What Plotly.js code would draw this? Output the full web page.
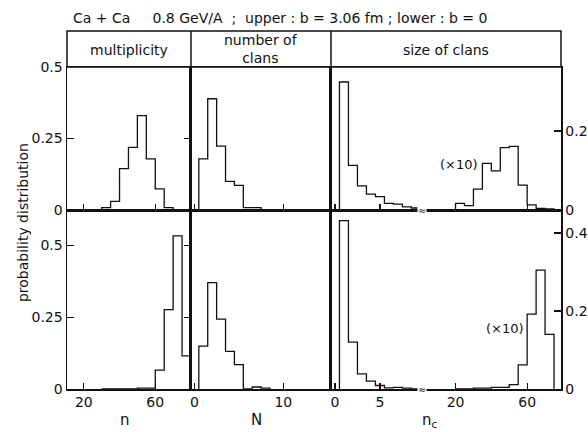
<!DOCTYPE html>
<html><head><meta charset="utf-8">
<script src="https://cdn.plot.ly/plotly-3.0.1.min.js"></script>
<style>html,body{margin:0;padding:0;background:#fff}#chart{width:588px;height:432px}</style>
</head><body><div id="chart"></div>
<script>
// ---- data ----
// Multiplicity n : bins of width 5 (lower edges)
const multBins  = [30, 35, 40, 45, 50, 55, 60, 65, 70, 75];
const multUpper = [0.008, 0.030, 0.145, 0.219, 0.330, 0.179, 0.074, 0.008, 0, 0];
const multLower = [0, 0, 0, 0, 0.003, 0.003, 0.066, 0.276, 0.533, 0.115];
// Number of clans N : unit bins centred on integers
const clanN     = [1, 2, 3, 4, 5, 6, 7, 8];
const clanUpper = [0.179, 0.389, 0.223, 0.100, 0.086, 0.008, 0.008, 0];
const clanLower = [0.149, 0.370, 0.243, 0.131, 0.085, 0, 0.007, 0.003];
// Size of clans n_c, small sizes : unit bins centred on integers
const sizeSmall      = [1, 2, 3, 4, 5, 6, 7, 8, 9];
const sizeSmallUpper = [0.324, 0.113, 0.061, 0.040, 0.034, 0.017, 0.015, 0.008, 0.005];
const sizeSmallLower = [0.432, 0.120, 0.039, 0.020, 0.009, 0.003, 0.004, 0.002, 0];
// Size of clans n_c, large sizes (drawn x10) : bins of width 5 (lower edges)
const sizeLargeBins  = [20, 25, 30, 35, 40, 45, 50, 55, 60, 65, 70];
const sizeLargeUpper = [0.017, 0.011, 0.053, 0.118, 0.099, 0.158, 0.161, 0.063, 0.013, 0.004, 0.003];
const sizeLargeLower = [0, 0, 0.002, 0.002, 0.004, 0.004, 0.011, 0.062, 0.192, 0.305, 0.140];
// ticks
const nTicks = [20, 60];
const NTicks = [0, 10];
const ncSmallTicks = [0, 5];
const ncLargeTicks = [20, 60];
const leftYTicks = [0, 0.25, 0.5];
const leftYText  = ['0', '0.25', '0.5'];
const rightYTicksUpper = [0, 0.2];
const rightYTicksLower = [0, 0.2, 0.4];

// ---- build step outlines ----
function steps(lowerEdges, width, vals) {
  const x = [lowerEdges[0]], y = [0];
  for (let i = 0; i < vals.length; i++) { x.push(lowerEdges[i]); y.push(vals[i]); }
  x.push(lowerEdges[lowerEdges.length - 1] + width); y.push(0);
  return {x, y};
}
const centred = arr => arr.map(v => v - 0.5);
const INK = '#111';
function tr(s, xa, ya) {
  return {type:'scatter', mode:'lines', x:s.x, y:s.y, xaxis:xa, yaxis:ya,
          line:{shape:'hv', color:INK, width:1.3}, hoverinfo:'skip', showlegend:false};
}
const data = [
  tr(steps(multBins, 5, multUpper), 'x', 'y'),
  tr(steps(multBins, 5, multLower), 'x2', 'y2'),
  tr(steps(centred(clanN), 1, clanUpper), 'x3', 'y3'),
  tr(steps(centred(clanN), 1, clanLower), 'x4', 'y4'),
  tr(steps(centred(sizeSmall), 1, sizeSmallUpper), 'x5', 'y5'),
  tr(steps(centred(sizeSmall), 1, sizeSmallLower), 'x6', 'y6'),
  tr(steps(sizeLargeBins, 5, sizeLargeUpper), 'x7', 'y7'),
  tr(steps(sizeLargeBins, 5, sizeLargeLower), 'x8', 'y8')
];

// ---- layout ----
const F = 'DejaVu Sans, sans-serif';
const tickfont = {family:F, size:14, color:INK};
const d1 = 0.2510, d2 = 0.5344, d3 = 0.7227;
const yU = [0.5, 0.8994], yL = [0, 0.5];
const smallRange = [-0.44, 9.9];
const base = {showline:true, linecolor:INK, linewidth:1.5, showgrid:false, zeroline:false,
              fixedrange:true, tickfont, tickcolor:INK, tickwidth:1.2};
function xa(domain, range, anchor, tickvals, labels) {
  return Object.assign({}, base, {domain, range, anchor, mirror:true, ticks:'inside', ticklen:6,
    tickvals, showticklabels:labels});
}
function ann(text, x, y, size, extra) {
  return Object.assign({text, xref:'paper', yref:'paper', x, y, xanchor:'center', yanchor:'middle',
    showarrow:false, font:{family:F, size, color:INK}}, extra || {});
}
const breakMark = {xanchor:'center', yanchor:'middle', showarrow:false, bgcolor:'#fff', borderpad:0,
                   font:{family:'DejaVu Sans', size:10, color:INK}};
const layout = {
  width:588, height:432, paper_bgcolor:'#fff', plot_bgcolor:'#fff',
  margin:{l:67, r:27, t:31, b:43},
  font:{family:F, color:INK},
  title:{text:'Ca + Ca &nbsp;&nbsp;&nbsp;&nbsp;0.8 GeV/A &nbsp;; &nbsp;upper : b = 3.06 fm ; lower : b = 0',
         x:0.012, xref:'paper', xanchor:'left', y:0.958, yref:'container', yanchor:'middle',
         font:{family:F, size:14, color:INK}},
  xaxis:  xa([0, d1], [10.6, 80], 'y', nTicks, false),
  xaxis2: xa([0, d1], [10.6, 80], 'y2', nTicks, true),
  xaxis3: xa([d1, d2], [-0.38, 15.35], 'y3', NTicks, false),
  xaxis4: xa([d1, d2], [-0.38, 15.35], 'y4', NTicks, true),
  xaxis5: xa([d2, d3], smallRange, 'y5', ncSmallTicks, false),
  xaxis6: xa([d2, d3], smallRange, 'y6', ncSmallTicks, true),
  xaxis7: xa([d3, 1], [2.4, 78.9], 'y7', ncLargeTicks, false),
  xaxis8: xa([d3, 1], [2.4, 78.9], 'y8', ncLargeTicks, true),
  yaxis:  Object.assign({}, base, {domain:yU, range:[0, 0.5], anchor:'x', mirror:'ticks', ticks:'inside',
            ticklen:7, tickvals:leftYTicks, ticktext:leftYText}),
  yaxis2: Object.assign({}, base, {domain:yL, range:[0, 0.623], anchor:'x2', mirror:'ticks', ticks:'inside',
            ticklen:7, tickvals:leftYTicks, ticktext:leftYText}),
  yaxis3: Object.assign({}, base, {domain:yU, matches:'y', anchor:'x3', mirror:true, ticks:'', showticklabels:false}),
  yaxis4: Object.assign({}, base, {domain:yL, matches:'y2', anchor:'x4', mirror:true, ticks:'', showticklabels:false}),
  yaxis5: Object.assign({}, base, {domain:yU, range:[0, 0.362], anchor:'x5', ticks:'', showticklabels:false}),
  yaxis6: Object.assign({}, base, {domain:yL, range:[0, 0.459], anchor:'x6', ticks:'', showticklabels:false}),
  yaxis7: Object.assign({}, base, {domain:yU, matches:'y5', anchor:'x7', side:'right', ticks:'inside',
            ticklen:7, tickvals:rightYTicksUpper}),
  yaxis8: Object.assign({}, base, {domain:yL, matches:'y6', anchor:'x8', side:'right', ticks:'inside',
            ticklen:7, tickvals:rightYTicksLower}),
  shapes: [
    {type:'rect', xref:'paper', yref:'paper', x0:0, x1:1, y0:yU[1], y1:1, line:{color:INK, width:1.5}},
    {type:'line', xref:'paper', yref:'paper', x0:d1, x1:d1, y0:yU[1], y1:1, line:{color:INK, width:1.5}},
    {type:'line', xref:'paper', yref:'paper', x0:d2, x1:d2, y0:yU[1], y1:1, line:{color:INK, width:1.5}}
  ],
  annotations: [
    ann('multiplicity', d1/2, 0.947, 14),
    ann('number of<br>clans', (d1+d2)/2, 0.950, 14),
    ann('size of clans', (d2+1)/2, 0.947, 14),
    {text:'(×10)', xref:'x7', yref:'y7', x:22.2, y:0.114, xanchor:'center', yanchor:'middle',
     showarrow:false, font:{family:F, size:13, color:INK}},
    {text:'(×10)', xref:'x8', yref:'y8', x:47.7, y:0.156, xanchor:'center', yanchor:'middle',
     showarrow:false, font:{family:F, size:13, color:INK}},
    Object.assign({text:'≈', xref:'x5', yref:'y5', x:smallRange[1] - 0.2, y:0}, breakMark),
    Object.assign({text:'≈', xref:'x6', yref:'y6', x:smallRange[1] - 0.2, y:0}, breakMark),
    ann('n', 0.1174, -0.0866, 15),
    ann('N', 0.3846, -0.0866, 15),
    ann('n<sub>c</sub>', 0.7348, -0.0866, 15),
    ann('probability distribution', -0.089, 0.4637, 14, {textangle:-90})
  ]
};
Plotly.newPlot('chart', data, layout, {displayModeBar:false, staticPlot:true});
</script></body></html>
